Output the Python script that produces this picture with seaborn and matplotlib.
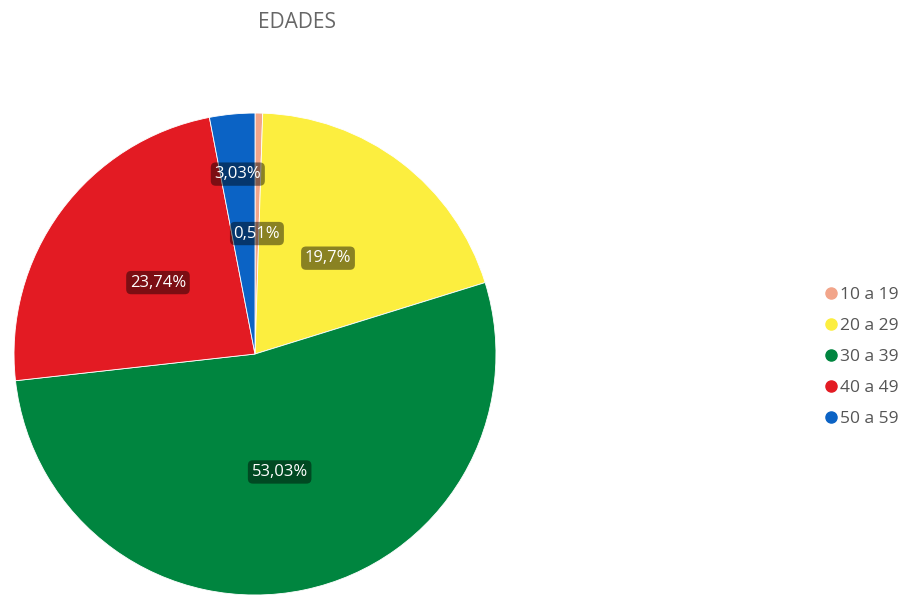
import numpy as np
import matplotlib.pyplot as plt
import seaborn as sns
from matplotlib.lines import Line2D

# Age distribution (pie, clockwise from 12 o'clock)
faixas = ["10 a 19", "20 a 29", "30 a 39", "40 a 49", "50 a 59"]
percentuais = [0.51, 19.7, 53.03, 23.74, 3.03]
rotulos = ["0,51%", "19,7%", "53,03%", "23,74%", "3,03%"]
cores = ["#F2A58A", "#FCEE3F", "#00853F", "#E31B23", "#0B63C5"]

sns.set_theme(style="white")
plt.rcParams["font.family"] = ["Open Sans", "DejaVu Sans"]

fig = plt.figure(figsize=(9.02, 5.95), dpi=100)
ax = fig.add_axes([0.0155, 0.0, 0.5344, 0.81])

wedges, _ = ax.pie(percentuais, colors=cores, startangle=90, counterclock=False,
                   wedgeprops=dict(linewidth=0.6, edgecolor="white"))
ax.set_xlim(-1, 1)
ax.set_ylim(-1, 1)
ax.set_aspect("equal")

# labels sit at half radius; the small 3,03% slice is pushed outward to avoid overlap
dist = [0.5, 0.5, 0.5, 0.5, 0.75]
for w, txt, d in zip(wedges, rotulos, dist):
    ang = np.deg2rad((w.theta1 + w.theta2) / 2)
    ax.text(d * np.cos(ang), d * np.sin(ang), txt, ha="center", va="center",
            color="white", fontsize=12,
            bbox=dict(boxstyle="round,pad=0.22,rounding_size=0.3",
                      facecolor="black", alpha=0.45, edgecolor="none"))

fig.text(0.329, 0.963, "EDADES", ha="center", va="center", fontsize=15,
         color="#666666")

handles = [Line2D([], [], marker="o", linestyle="", markersize=8,
                  markerfacecolor=c, markeredgecolor=c) for c in cores]
fig.legend(handles, faixas, loc="center left", bbox_to_anchor=(0.912, 0.40),
           frameon=False, fontsize=12.5, labelcolor="#555555",
           handletextpad=0.0, labelspacing=0.85, handlelength=1.0,
           borderaxespad=0, borderpad=0)

fig.savefig("out.png", dpi=100)
